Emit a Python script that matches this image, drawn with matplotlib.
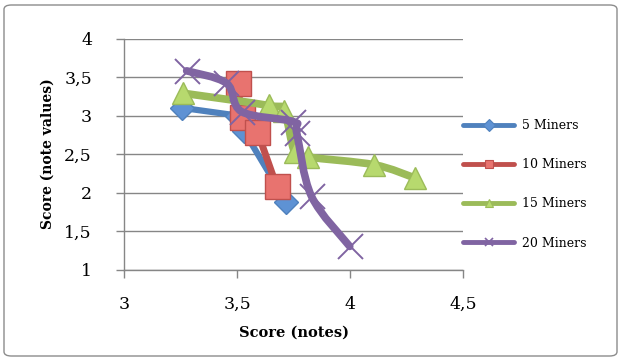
import matplotlib
matplotlib.use("Agg")
import matplotlib.pyplot as plt
from matplotlib.path import Path
from matplotlib.patches import PathPatch, FancyBboxPatch
from matplotlib.lines import Line2D
from matplotlib.ticker import FuncFormatter

# Series data: x = Score (notes), y = Score (note values)
series_names = ["5 Miners", "10 Miners", "15 Miners", "20 Miners"]

x_5 = [3.255, 3.50, 3.53, 3.717]
y_5 = [3.10, 3.00, 2.80, 1.88]

x_10 = [3.502, 3.52, 3.59, 3.675]
y_10 = [3.42, 2.98, 2.79, 2.08]

x_15 = [3.26, 3.64, 3.707, 3.755, 3.815, 4.107, 4.285]
y_15 = [3.29, 3.13, 3.06, 2.52, 2.46, 2.36, 2.19]

x_20 = [3.277, 3.453, 3.52, 3.749, 3.764, 3.829, 3.998]
y_20 = [3.58, 3.42, 3.05, 2.92, 2.77, 1.95, 1.30]

x_ticks = [3, 3.5, 4, 4.5]
y_ticks = [1, 1.5, 2, 2.5, 3, 3.5, 4]

colors = ["#4F81BD", "#C0504D", "#9BBB59", "#8064A2"]
face_colors = ["#5E92D4", "#E8736F", "#B7D96E", "#8064A2"]
markers = ["D", "s", "^", "x"]
marker_sizes = [12, 18, 16, 18]
line_widths = [4.5, 5.0, 5.5, 5.5]
smooth = [False, False, True, True]

W, H = 622, 360
fig = plt.figure(figsize=(W / 100, H / 100), dpi=100)

# rounded chart border
fig.patches.append(FancyBboxPatch((4 / W, 4 / H), 1 - 9 / W, 1 - 9 / H,
                                  boxstyle="round,pad=0,rounding_size=0.012",
                                  transform=fig.transFigure, facecolor="none",
                                  edgecolor="#8C8C8C", linewidth=1.0))

ax = fig.add_axes([124 / W, 1 - 269.5 / H, (463.3 - 124) / W, (269.5 - 38.5) / H])
ax.set_xlim(3, 4.5)
ax.set_ylim(1, 4)

grey = "#868686"
for s in ["top", "right"]:
    ax.spines[s].set_visible(False)
for s in ["left", "bottom"]:
    ax.spines[s].set_color(grey)
    ax.spines[s].set_linewidth(1.0)
ax.yaxis.grid(True, color=grey, linewidth=1.0)
ax.set_axisbelow(True)

ax.set_xticks(x_ticks)
ax.set_yticks(y_ticks)
comma = FuncFormatter(lambda v, p: ("%g" % v).replace(".", ","))
ax.xaxis.set_major_formatter(comma)
ax.yaxis.set_major_formatter(comma)
ax.tick_params(axis="both", direction="out", length=6, width=1.0, color=grey,
               labelsize=12.5, labelcolor="#000000")
ax.tick_params(axis="x", pad=13)
ax.tick_params(axis="y", pad=17)
for lab in ax.get_xticklabels() + ax.get_yticklabels():
    lab.set_family("DejaVu Serif")

ax.set_xlabel("Score (notes)", family="DejaVu Serif", fontweight="bold",
              fontsize=10.5, labelpad=9)
ax.set_ylabel("Score (note values)", family="DejaVu Serif", fontweight="bold",
              fontsize=10, labelpad=7)


def smooth_path(xs, ys):
    """Bezier spline through the points, in the style of a smoothed line."""
    pts = list(zip(xs, ys))
    verts = [pts[0]]
    codes = [Path.MOVETO]
    n = len(pts)
    for i in range(n - 1):
        p0 = pts[i - 1] if i > 0 else pts[i]
        p1 = pts[i]
        p2 = pts[i + 1]
        p3 = pts[i + 2] if i + 2 < n else pts[i + 1]
        c1 = (p1[0] + (p2[0] - p0[0]) / 6, p1[1] + (p2[1] - p0[1]) / 6)
        c2 = (p2[0] - (p3[0] - p1[0]) / 6, p2[1] - (p3[1] - p1[1]) / 6)
        verts += [c1, c2, p2]
        codes += [Path.CURVE4] * 3
    return Path(verts, codes)


data = [(x_5, y_5), (x_10, y_10), (x_15, y_15), (x_20, y_20)]
handles = []
for k, (xs, ys) in enumerate(data):
    z = 3 + k
    if smooth[k]:
        ax.add_patch(PathPatch(smooth_path(xs, ys), facecolor="none",
                               edgecolor=colors[k], linewidth=line_widths[k],
                               capstyle="round", joinstyle="round", zorder=z))
    else:
        ax.plot(xs, ys, color=colors[k], linewidth=line_widths[k],
                solid_capstyle="round", solid_joinstyle="round", zorder=z)
    if markers[k] == "x":
        ax.plot(xs, ys, linestyle="none", marker="x", markersize=marker_sizes[k],
                markeredgecolor=colors[k], markeredgewidth=1.4, zorder=z + 0.5)
    else:
        ax.plot(xs, ys, linestyle="none", marker=markers[k],
                markersize=marker_sizes[k], markerfacecolor=face_colors[k],
                markeredgecolor=colors[k], markeredgewidth=1.0, zorder=z + 0.5)
    handles.append(Line2D([], [], color=colors[k], linewidth=3.5,
                          solid_capstyle="round", marker=markers[k],
                          markersize=6, markerfacecolor=face_colors[k],
                          markeredgecolor=colors[k],
                          markeredgewidth=1.2 if markers[k] == "x" else 0.8))

leg = fig.legend(handles, series_names, loc="upper left",
                 bbox_to_anchor=(463 / W, 1 - 119 / H),
                 frameon=False, borderpad=0, borderaxespad=0,
                 handlelength=4.1, handletextpad=0.6, labelspacing=2.1,
                 prop={"family": "DejaVu Serif", "size": 9})

fig.savefig("out.png", dpi=100)
